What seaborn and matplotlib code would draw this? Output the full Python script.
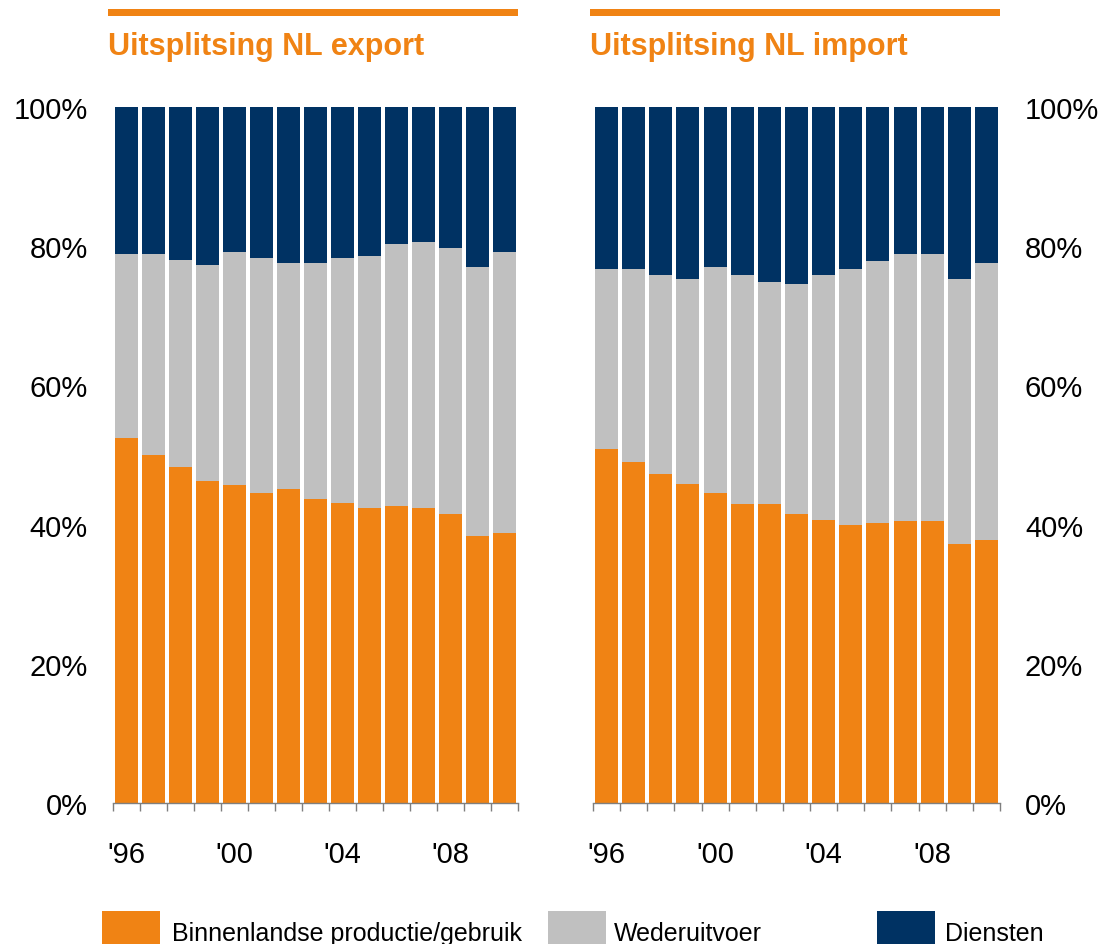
import matplotlib
matplotlib.use("Agg")
import matplotlib.pyplot as plt
from matplotlib.patches import Rectangle
import seaborn as sns
import pandas as pd

sns.set_style("white")
plt.rcParams["font.family"] = ["Liberation Sans", "DejaVu Sans"]
plt.rcParams["text.color"] = "black"
plt.rcParams["xtick.labelcolor"] = "black"
plt.rcParams["ytick.labelcolor"] = "black"

# Years shown on the x axis (1996-2010)
years = [str(y) for y in range(1996, 2011)]
year_ticks = {"1996": "'96", "2000": "'00", "2004": "'04", "2008": "'08"}

# Export split (% of total): domestic production share and cumulative share incl. re-export
export_domestic = [52.4, 50.0, 48.3, 46.3, 45.7, 44.5, 45.1, 43.7, 43.1, 42.4, 42.7, 42.4, 41.5, 38.4, 38.8]
export_reexport_cum = [78.9, 78.9, 78.0, 77.3, 79.2, 78.3, 77.6, 77.6, 78.3, 78.6, 80.3, 80.6, 79.7, 77.0, 79.2]

# Import split (% of total): domestic use share and cumulative share incl. re-export
import_domestic = [50.9, 49.0, 47.3, 45.8, 44.5, 43.0, 43.0, 41.5, 40.7, 39.9, 40.2, 40.5, 40.5, 37.2, 37.8]
import_reexport_cum = [76.7, 76.7, 75.9, 75.3, 77.0, 75.9, 74.9, 74.6, 75.9, 76.7, 77.9, 78.9, 78.9, 75.3, 77.6]

# Services fill the remainder up to 100%
total = [100.0] * len(years)

series_names = ["Binnenlandse productie/gebruik", "Wederuitvoer", "Diensten"]
titles = ["Uitsplitsing NL export", "Uitsplitsing NL import"]

ORANGE = "#F08314"
GREY = "#C0C0C0"
NAVY = "#003263"
TICK_GREY = "#7F7F7F"

W, H = 1106, 945
fig = plt.figure(figsize=(W / 100, H / 100), dpi=100)


def fx(px):
    return px / W


def fy(py):
    return 1 - py / H


ax_exp = fig.add_axes([fx(113), fy(804), fx(405), 696 / H])
ax_imp = fig.add_axes([fx(593), fy(804), fx(407), 696 / H])

panels = [
    (ax_exp, export_domestic, export_reexport_cum, "left"),
    (ax_imp, import_domestic, import_reexport_cum, "right"),
]

for ax, domestic, cum, side in panels:
    df = pd.DataFrame({"year": years, "domestic": domestic, "cum": cum, "total": total})
    # Stacked bars drawn as overlapping cumulative layers
    for col, colour in [("total", NAVY), ("cum", GREY), ("domestic", ORANGE)]:
        sns.barplot(data=df, x="year", y=col, color=colour, width=0.85,
                    saturation=1, linewidth=0, edgecolor="none", ax=ax)

    ax.set_xlim(-0.5, len(years) - 0.5)
    ax.set_ylim(0, 100)
    ax.set_xlabel("")
    ax.set_ylabel("")

    # Year labels at bar centres, tick marks at bar boundaries
    major_pos = [years.index(y) for y in year_ticks]
    ax.set_xticks(major_pos)
    ax.set_xticklabels(list(year_ticks.values()))
    ax.set_xticks([i - 0.5 for i in range(len(years) + 1)], minor=True)
    ax.tick_params(axis="x", which="major", bottom=True, length=0, pad=27,
                   labelsize=21, labelcolor="black")
    ax.tick_params(axis="x", which="minor", bottom=True, length=6, width=1,
                   color=TICK_GREY, direction="out")

    ax.set_yticks(range(0, 101, 20))
    ax.set_yticklabels([f"{v}%" for v in range(0, 101, 20)])
    if side == "right":
        ax.yaxis.tick_right()
    ax.tick_params(axis="y", length=0, pad=18, labelsize=21, labelcolor="black")

    for s in ["top", "left", "right"]:
        ax.spines[s].set_visible(False)
    ax.spines["bottom"].set_color(TICK_GREY)
    ax.spines["bottom"].set_linewidth(1)

# Panel headers: orange rule plus bold title
for (x0, x1), title in zip([(108, 518), (590, 1000)], titles):
    fig.add_artist(Rectangle((fx(x0), fy(17)), fx(x1 - x0), 7 / H,
                             transform=fig.transFigure, color=ORANGE, lw=0))
    fig.text(fx(x0), fy(47), title, color=ORANGE, fontsize=22, fontweight="bold",
             ha="left", va="center")

# Legend along the bottom edge
legend_items = [(102, 172, ORANGE), (548, 614, GREY), (877, 945, NAVY)]
for (sx, tx, col), name in zip(legend_items, series_names):
    fig.add_artist(Rectangle((fx(sx), fy(948)), fx(58), 36 / H,
                             transform=fig.transFigure, color=col, lw=0))
    fig.text(fx(tx), fy(934), name, fontsize=18, color="black", ha="left", va="center")

fig.savefig("out.png", dpi=100)
